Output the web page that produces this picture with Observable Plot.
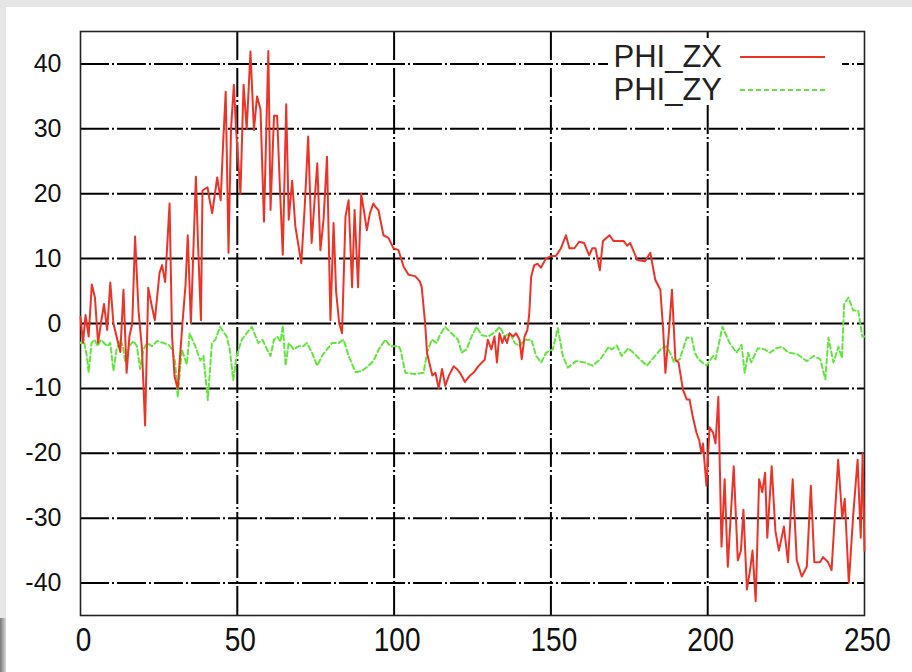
<!DOCTYPE html>
<html><head><meta charset="utf-8">
<script src="https://cdn.jsdelivr.net/npm/d3@7"></script>
<script src="https://cdn.jsdelivr.net/npm/@observablehq/plot@0.6"></script>
<style>
html,body{margin:0;padding:0;background:#e6e6e6;width:912px;height:672px;overflow:hidden;}
#wrap{position:absolute;left:6px;top:7px;width:906px;height:665px;background:#fff;}
#shade{position:absolute;left:0;top:618px;width:6px;height:54px;background:linear-gradient(to right,#777,#d8d8d8);}
</style></head><body><div id="wrap"></div><div id="shade"></div>
<script>
const xTicks = [0, 50, 100, 150, 200, 250];
const yTicks = [-40, -30, -20, -10, 0, 10, 20, 30, 40];
const seriesNames = ["PHI_ZX", "PHI_ZY"];

const zxX = [0,0.8,1.6,2.6,3.6,4.6,5.6,6.5,7.5,8.5,9.5,10.5,11.5,12.7,13.7,14.7,15.6,16.5,17.4,18.5,19.6,20.6,21.6,22.6,23.7,25.2,26,27,28.4,29.2,30,31,32.5,33.5,34.2,35.2,36.8,37.5,38.4,38.9,40.5,41.2,42,43.6,44.7,45.5,46.3,47.2,48,48.9,49.6,51,52,53,54.2,55.3,56.3,57.4,58.5,59.9,60.6,61.7,62.7,63.5,64.5,65.6,66.4,67.5,68.5,69.5,70.4,71.5,72.6,73.7,74.5,75.5,76.5,77.5,78.6,79.7,80.7,81.5,82.5,83.4,84.5,85.5,86.6,87.4,88.5,89.5,90.5,91.3,92.3,93.4,94,95,96.6,98.2,99.8,101.4,103,104.6,106.7,108.2,108.8,109.9,110.5,111.2,112.2,113.2,114.2,115.3,116.3,117.5,119,120,121,122.6,124.2,125.5,126.8,128,128.9,129.9,131,132,132.8,133.6,134.5,135.2,136,136.8,138,138.9,140,140.7,141.6,142.5,143.1,143.7,144.7,145.8,146.8,148.4,150,151.6,153.2,154.8,155.9,157.5,159,160.6,162.2,163.2,164.2,165.6,166.6,168.7,170,171.5,173.2,174.3,175.3,176.5,177.5,180,181.7,183.3,184.9,185.8,186.5,187.6,188.6,189.7,190.7,192.1,193.3,194.2,195.3,196.4,197.3,198,198.5,199.6,200.6,201.7,202.5,203.4,204.4,205.4,206.4,207.3,208.3,209.6,210.6,211.4,212.5,213.5,214.3,215.3,216.4,217.4,218.3,219,220.4,221.6,222.7,224.3,225.6,227.1,228.4,230,231.6,232.9,234,235.8,236.8,238.4,239.5,241.6,242.9,243.7,245,246.4,247.8,248.8,249.4,250];
const zxY = [1,-3,1.3,-2,6,4,-3,0,3,-1,6.3,0,-2,-4.4,5.2,-7.6,-2,0,13.4,2,-4,-15.7,5.5,3,0.5,7.8,9,6.4,18.5,-2,-8.2,-10,0,6,13.6,0,22.6,12,0.5,20.5,21,19,17,22.5,19,28,35.7,10.9,30,36.8,30,20,36.8,30,41.9,29.8,35,33,15.7,42,17.5,32,32,22,10.6,33.8,16,22,15,12,9.3,18,28.8,12.4,18,24.7,11.3,16,25.7,0.5,15.5,5,0,-1.5,16.5,19,5.6,17.5,5.6,20,17,14.4,17,18.5,18,17.5,13.6,13.2,11.6,11.3,8.8,7.5,7.3,6.5,5.6,0,-4.5,-6,-8,-7.6,-10,-7,-9.6,-8,-6.6,-7,-7.6,-9,-8,-7.5,-6.6,-6,-5.6,-2.5,-4,-2,-6,-1.5,-3,-2,-3,-1.5,-2,-1.5,-2.5,-5.5,-2,-1,1.5,7.2,9,9.2,8.6,10,10.4,10.4,11.6,13.6,11.6,11.6,12.6,12.4,10.5,11.6,11.6,8.2,12.7,13.6,12.7,12.7,12.7,12,12.4,11,9.8,9.6,10.9,6.7,5.2,-1,-7.6,-1.5,5.2,-5.6,-6,-10.2,-11.7,-11.7,-14.5,-16.8,-18,-20,-18.5,-25,-16,-16.8,-18.5,-11.3,-34.4,-24,-37.5,-30,-22,-36.5,-35,-28.7,-41,-38,-35,-42.8,-24,-26,-23,-33,-22,-32,-35,-31.3,-36.8,-24,-36.5,-39,-37.5,-25,-36.8,-36.8,-36,-36.8,-38,-21,-30,-27,-40,-29.5,-21,-33,-20,-35];

const zyX = [0,1,2,2.6,3.5,4.5,5.5,6.5,7.5,8.5,9.5,10.5,11.5,12.7,13.5,14.3,15.5,16.9,18,19,20.1,21.2,22.8,24.4,26.5,28.1,29.2,30.2,31,32.3,33.9,34.8,36.6,38.2,39.2,40.6,41.9,43,44.5,46.6,47.6,48.7,49.8,51.4,53,54.6,56.7,58,59.5,60.6,61.7,62.7,63.8,64.5,65.4,66.4,68,69.6,71,72.2,73.8,75.5,77,78.6,80.2,82.3,83.9,85.5,87.7,89.8,91.9,93.5,95.1,97.2,98.8,101.5,102,103.6,106.7,109.4,110.5,112,113.6,114.6,116.2,118.3,120.4,121.5,123.1,124.7,126.3,127.9,130,132.2,133.7,135.3,136.9,138.5,140,141.6,143.8,145.3,146.9,148.5,150.6,152.2,153.8,155.4,158,160.7,163.3,165.8,168.4,169.4,171,172.6,174.7,176.3,177.9,180.6,182.7,185.3,186.9,188.5,189.2,191.1,193.3,194.9,195.9,197,199.6,201.7,202.5,204.7,207,209.2,210.8,211.8,212.9,213.9,216,218.2,219.8,221.9,223.7,225.8,228.5,231.6,233.8,235.9,237.5,238.5,240.1,241.7,242.8,243.5,244.9,246.4,248,249.3,250];
const zyY = [-3,-2.5,-5,-7.5,-3,-2.5,-3.5,-2.5,-3,-3.5,-3,-7.3,-4,-2.5,-3.5,-6,-3.5,-2.7,-3.5,-7,-4,-3,-3.5,-2.7,-3,-3.3,-4,-6,-11.4,-4,-6.3,-1.5,-3.5,-5.7,-5,-11.8,-3,-2.5,-0.5,-2,-4,-8.7,-5,-2.5,-1.5,-0.5,-3,-2.5,-4,-5,-2.5,-2,-2.8,-0.3,-6.5,-3,-4,-3.5,-3.5,-3,-4.5,-6.5,-5,-4,-3,-3,-2.5,-5,-7.5,-7.3,-6.5,-5.7,-4,-2.5,-3.5,-3.5,-4,-7.6,-7.8,-7.6,-4.5,-2.5,-3,-1.8,-0.5,-1.5,-2.5,-4.5,-4,-2,-0.5,-1.8,-2,-1.3,-0.5,-2,-1.5,-3,-3.5,-2.5,-2.5,-5,-6,-4.5,-4,-0.7,-5,-6.8,-5.8,-6,-6.5,-5.5,-3.6,-4,-3.4,-5,-3.8,-4.5,-5.3,-6.5,-5.3,-3.8,-3.5,-5,-6,-5.5,-2.2,-2.2,-4.5,-5.5,-6.5,-5,-5.5,-0.5,-3,-4.5,-3.3,-7.6,-4.5,-6,-3.8,-4,-4.5,-3.8,-3.6,-4.5,-4.7,-5.8,-5,-5.5,-8.6,-2.2,-6,-3.6,-5.3,3,4,2,2,-2,-2];

const zx = zxX.map((x, i) => ({x, y: zxY[i]}));
const zy = zyX.map((x, i) => ({x, y: zyY[i]}));

const dash = "29,3,2,3";
const redC = "#ec3328", greenC = "#62e63e";
const chart = Plot.plot({
  width: 906, height: 665,
  marginLeft: 74, marginTop: 24, marginRight: 48, marginBottom: 57,
  style: {fontFamily: "Liberation Sans, Arial, sans-serif", background: "#fff", color: "#111"},
  x: {domain: [0, 250], ticks: xTicks, tickSize: 0, tickPadding: 12, label: null, tickFormat: d => String(d)},
  y: {domain: [-45, 45], ticks: yTicks, tickSize: 0, tickPadding: 19, label: null, tickFormat: d => String(d)},
  marks: [
    Plot.ruleY(yTicks, {stroke: "#000", strokeWidth: 2, strokeDasharray: dash}),
    Plot.ruleX(xTicks.slice(1, -1), {stroke: "#000", strokeWidth: 2, strokeDasharray: dash}),
    Plot.frame({stroke: "#222", strokeWidth: 1.6}),
    Plot.line(zy, {x: "x", y: "y", stroke: greenC, strokeWidth: 2, strokeDasharray: "5,3"}),
    Plot.line(zx, {x: "x", y: "y", stroke: redC, strokeWidth: 2})
  ]
});
document.getElementById("wrap").appendChild(chart);

chart.querySelectorAll('g[aria-label="x-axis tick label"]').forEach(g => { g.style.fontSize = "33px"; });
chart.querySelectorAll('g[aria-label="y-axis tick label"]').forEach(g => { g.style.fontSize = "25px"; });
chart.querySelectorAll('g[aria-label="x-axis tick label"] text').forEach(t => {
  const tr = t.getAttribute('transform') || '';
  t.setAttribute('transform', tr + ' translate(3,0) scale(0.85,1)');
});

// legend (page coords minus wrap offset)
const svg = d3.select(chart);
const ox = 6, oy = 7;
const lg = svg.append("g").attr("font-family", "Liberation Sans, Arial, sans-serif");
lg.append("rect").attr("x", 608 - ox).attr("y", 38 - oy).attr("width", 234).attr("height", 67).attr("fill", "#fff");
const colors = [redC, greenC];
const dashes = [null, "5,3"];
seriesNames.forEach((name, i) => {
  const base = [67, 100][i] - oy;
  const ly = [57, 90][i] - oy;
  lg.append("text").attr("x", 722 - ox).attr("y", base).attr("text-anchor", "end")
    .attr("font-size", 31).attr("fill", "#222").text(name);
  lg.append("line").attr("x1", 740 - ox).attr("x2", 825 - ox).attr("y1", ly).attr("y2", ly)
    .attr("stroke", colors[i]).attr("stroke-width", 2).attr("stroke-dasharray", dashes[i]);
});
</script></body></html>
